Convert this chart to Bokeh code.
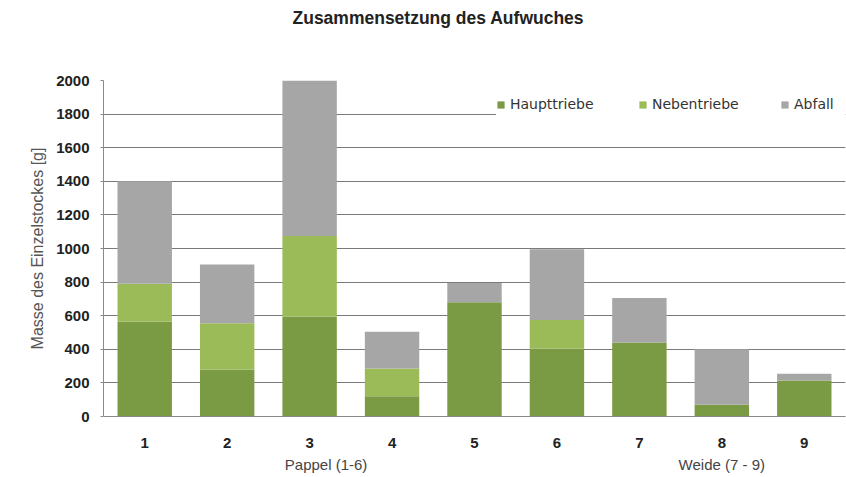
from bokeh.plotting import figure
from bokeh.models import (Range1d, FixedTicker, Legend, LegendItem, LinearAxis,
                          ColumnDataSource, Title)
from bokeh.embed import file_html
from bokeh.resources import INLINE

# ---- data ----
stocks = [1, 2, 3, 4, 5, 6, 7, 8, 9]
haupttriebe = [565, 280, 595, 120, 680, 405, 440, 70, 215]
nebentriebe = [225, 275, 480, 165, 0, 170, 0, 0, 0]
abfall = [610, 350, 925, 220, 115, 420, 265, 330, 40]
series_names = ["Haupttriebe", "Nebentriebe", "Abfall"]
y_ticks = [0, 200, 400, 600, 800, 1000, 1200, 1400, 1600, 1800, 2000]
group_labels = ["Pappel (1-6)", "Weide (7 - 9)"]
group_centers = [3.2, 8.0]

colors = ["#7a9a44", "#9bbb59", "#a6a6a6"]

source = ColumnDataSource(dict(x=stocks, Haupttriebe=haupttriebe,
                               Nebentriebe=nebentriebe, Abfall=abfall))

W, H = 846, 477
p = figure(width=W, height=H, output_backend="svg", toolbar_location=None,
           x_range=Range1d(0.5, 9.5), y_range=Range1d(0, 2000),
           min_border_left=103, min_border_right=1, min_border_top=80,
           min_border_bottom=61, title="Zusammensetzung des Aufwuches")
p.outline_line_color = None
p.background_fill_color = "white"
p.border_fill_color = "white"

# title (outermost) and an empty spacer panel between title and frame
p.title.align = "left"
p.title.offset = 189
p.title.text_font = "Liberation Sans"
p.title.text_font_size = "17.5px"
p.title.text_font_style = "bold"
p.title.text_color = "#222222"
p.title.standoff = 8

spacer = Title(text=" ", text_font="Liberation Sans", text_font_size="17.5px",
               standoff=27)
p.add_layout(spacer, "above")

renderers = p.vbar_stack(series_names, x="x", width=0.66, source=source,
                         color=colors, line_color=None)

# grid
p.xgrid.grid_line_color = None
p.ygrid.ticker = FixedTicker(ticks=y_ticks)
p.ygrid.grid_line_color = "#7a7a7a"
p.ygrid.grid_line_width = 1.2

# y axis
p.yaxis.ticker = FixedTicker(ticks=y_ticks)
p.yaxis.axis_line_color = "#8a8a8a"
p.yaxis.major_tick_line_color = "#8a8a8a"
p.yaxis.major_tick_out = 3
p.yaxis.major_tick_in = 0
p.yaxis.minor_tick_line_color = None
p.yaxis.major_label_standoff = 11
p.yaxis.major_label_text_font = "Liberation Sans"
p.yaxis.major_label_text_font_size = "15px"
p.yaxis.major_label_text_font_style = "bold"
p.yaxis.major_label_text_color = "#222222"
p.yaxis.axis_label = "Masse des Einzelstockes [g]"
p.yaxis.axis_label_text_font = "Liberation Sans"
p.yaxis.axis_label_text_font_size = "16px"
p.yaxis.axis_label_text_font_style = "normal"
p.yaxis.axis_label_text_color = "#555555"
p.yaxis.axis_label_standoff = 7

# x axis
p.xaxis.ticker = FixedTicker(ticks=stocks)
p.xaxis.axis_line_color = "#8a8a8a"
p.xaxis.major_tick_line_color = None
p.xaxis.major_tick_out = 0
p.xaxis.major_tick_in = 0
p.xaxis.minor_tick_line_color = None
p.xaxis.major_label_standoff = 21
p.xaxis.major_label_text_font = "Liberation Sans"
p.xaxis.major_label_text_font_size = "15px"
p.xaxis.major_label_text_font_style = "bold"
p.xaxis.major_label_text_color = "#222222"

# group labels as a second axis below
group_axis = LinearAxis(ticker=FixedTicker(ticks=group_centers),
                        major_label_overrides=dict(zip(group_centers, group_labels)),
                        axis_line_color=None, major_tick_line_color=None,
                        minor_tick_line_color=None, major_tick_out=0, major_tick_in=0,
                        major_label_standoff=5,
                        major_label_text_font="Liberation Sans",
                        major_label_text_font_size="15px",
                        major_label_text_font_style="normal",
                        major_label_text_color="#444444")
p.add_layout(group_axis, "below")

# legend
items = [LegendItem(label=n, renderers=[r]) for n, r in zip(series_names, renderers)]
legend = Legend(items=items, orientation="horizontal", location=(393, 287),
                glyph_width=9, glyph_height=9, label_standoff=5,
                label_width=128, label_height=50, spacing=0, padding=16, margin=0,
                border_line_color=None, background_fill_color="white",
                background_fill_alpha=1.0,
                label_text_font="DejaVu Sans", label_text_font_size="14px",
                label_text_color="#333333")
p.add_layout(legend, "center")

open("out.html", "w").write(file_html(p, INLINE))
